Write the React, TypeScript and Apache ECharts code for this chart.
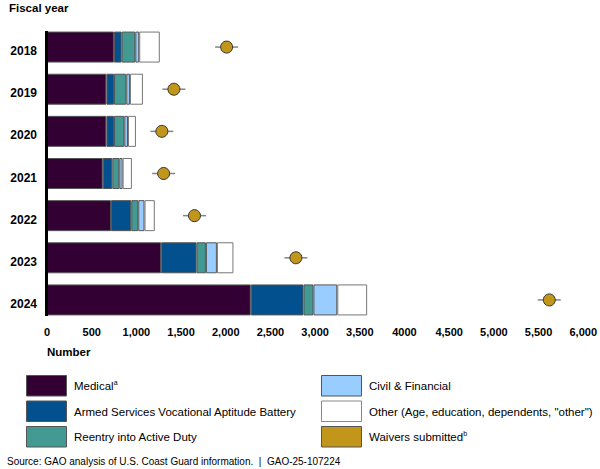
import React, { useEffect, useRef } from "react";
import * as echarts from "echarts";

const years = ["2018", "2019", "2020", "2021", "2022", "2023", "2024"];
const medical = [749, 665, 665, 624, 716, 1277, 2280];
const asvab = [86, 85, 85, 107, 227, 397, 590];
const reentry = [153, 137, 115, 78, 78, 104, 111];
const civil = [44, 41, 41, 37, 70, 123, 267];
const other = [230, 145, 89, 104, 115, 185, 334];
const waivers = [2010, 1420, 1285, 1305, 1650, 2785, 5620];
const xTickValues = [0, 500, 1000, 1500, 2000, 2500, 3000, 3500, 4000, 4500, 5000, 5500, 6000];
const xTickLabels = ["0", "500", "1,000", "1,500", "2,000", "2,500", "3,000", "3,500", "4000", "4,500", "5,000", "5,500", "6,000"];

const FONT = "'Liberation Sans', Arial, sans-serif";
const COLORS = {
  medical: "#330033",
  asvab: "#03508f",
  reentry: "#439a93",
  civil: "#99ccff",
  other: "#ffffff",
  waiver: "#c1961a",
};

const legendItems = [
  { name: "Medical", sup: "a", color: COLORS.medical, col: 0, row: 0 },
  { name: "Armed Services Vocational Aptitude Battery", sup: "", color: COLORS.asvab, col: 0, row: 1 },
  { name: "Reentry into Active Duty", sup: "", color: COLORS.reentry, col: 0, row: 2 },
  { name: "Civil & Financial", sup: "", color: COLORS.civil, col: 1, row: 0 },
  { name: 'Other (Age, education, dependents, "other")', sup: "", color: COLORS.other, col: 1, row: 1 },
  { name: "Waivers submitted", sup: "b", color: COLORS.waiver, col: 1, row: 2 },
];

const BAR_W = 31;

export default function App() {
  const ref = useRef<HTMLDivElement>(null);
  useEffect(() => {
    document.body.style.margin = "0";
    if (!ref.current) return;
    const chart = echarts.init(ref.current, undefined, { renderer: "svg" });

    const mkBar = (name: string, data: number[], color: string, border = "#555") => ({
      name,
      type: "bar",
      stack: "total",
      data,
      barWidth: BAR_W,
      itemStyle: { color, borderColor: border, borderWidth: 1 },
      emphasis: { disabled: true },
    });

    const legendGraphics: any[] = [];
    legendItems.forEach((it) => {
      const x = it.col === 0 ? 26 : 321;
      const y = 375 + it.row * 25.5;
      legendGraphics.push({
        type: "rect",
        shape: { x: x + 0.5, y: y + 0.5, width: 40, height: 20.5 },
        style: { fill: it.color, stroke: it.color === "#ffffff" ? "#888" : "#555", lineWidth: 1 },
      });
      legendGraphics.push({
        type: "text",
        x: x + 48,
        y: y + 11,
        style: {
          text: it.sup ? `{m|${it.name}}{s|${it.sup}}` : `{m|${it.name}}`,
          verticalAlign: "middle",
          rich: {
            m: { fontSize: 11.5, fontFamily: FONT, fill: "#000", lineHeight: 14 },
            s: { fontSize: 7, fontFamily: FONT, fill: "#000", lineHeight: 14, verticalAlign: "top", padding: [0, 0, 6, 0] },
          },
        },
      });
    });

    const baseGraphics: any[] = [
      {
        type: "text",
        x: 9,
        y: 8,
        style: {
          text: "Fiscal year",
          fontSize: 11.5,
          fontWeight: "bold",
          fontFamily: FONT,
          fill: "#000",
          verticalAlign: "middle",
        },
      },
      {
        type: "text",
        x: 47,
        y: 352,
        style: {
          text: "Number",
          fontSize: 11.5,
          fontWeight: "bold",
          fontFamily: FONT,
          fill: "#000",
          verticalAlign: "middle",
        },
      },
      ...legendGraphics,
      {
        type: "text",
        x: 7,
        y: 461,
        style: {
          text: "Source: GAO analysis of U.S. Coast Guard information.  |  GAO-25-107224",
          fontSize: 10,
          fontFamily: FONT,
          fill: "#000",
          verticalAlign: "middle",
        },
      },
    ];

    chart.setOption({
      animation: false,
      grid: { left: 47, width: 538, top: 26, height: 295 },
      xAxis: {
        type: "value",
        min: 0,
        max: 6000,
        interval: 500,
        axisLine: { show: false },
        axisTick: { show: false },
        splitLine: { show: false },
        axisLabel: {
          margin: 5,
          fontSize: 11,
          fontWeight: "bold",
          fontFamily: FONT,
          color: "#000",
          formatter: (v: number) => {
            const i = xTickValues.indexOf(v);
            return i >= 0 ? xTickLabels[i] : "";
          },
        },
      },
      yAxis: {
        type: "category",
        data: years,
        inverse: true,
        axisLine: { show: false },
        axisTick: { show: false },
        axisLabel: {
          margin: 10,
          formatter: "{y|{value}}",
          rich: {
            y: {
              fontSize: 12,
              fontWeight: "bold",
              fontFamily: FONT,
              color: "#000",
              lineHeight: 14,
              padding: [8, 0, 0, 0],
            },
          },
        },
      },
      series: [
        mkBar("Medical", medical, COLORS.medical),
        mkBar("Armed Services Vocational Aptitude Battery", asvab, COLORS.asvab),
        mkBar("Reentry into Active Duty", reentry, COLORS.reentry),
        mkBar("Civil & Financial", civil, COLORS.civil),
        mkBar('Other (Age, education, dependents, "other")', other, COLORS.other, "#777"),
        {
          name: "waiverLine",
          type: "scatter",
          data: waivers.map((v, i) => [v, years[i]]),
          symbol: "rect",
          symbolSize: [23, 1.5],
          itemStyle: { color: "#666" },
          z: 3,
          silent: true,
        },
        {
          name: "Waivers submitted",
          type: "scatter",
          data: waivers.map((v, i) => [v, years[i]]),
          symbol: "circle",
          symbolSize: 12,
          itemStyle: { color: COLORS.waiver, borderColor: "#333", borderWidth: 1, opacity: 1 },
          z: 4,
          silent: true,
        },
      ],
      graphic: baseGraphics,
    });

    // vertical axis line spanning only the bars, positioned via the chart's own scales
    const top = chart.convertToPixel({ gridIndex: 0 }, [0, years[0]]) as number[];
    const bottom = chart.convertToPixel({ gridIndex: 0 }, [0, years[years.length - 1]]) as number[];
    chart.setOption({
      graphic: [
        ...baseGraphics,
        {
          type: "line",
          shape: { x1: top[0] - 0.5, y1: top[1] - BAR_W / 2 - 0.5, x2: top[0] - 0.5, y2: bottom[1] + BAR_W / 2 + 0.5 },
          style: { stroke: "#000", lineWidth: 3 },
          z: 10,
        },
      ],
    });

    return () => chart.dispose();
  }, []);

  return <div ref={ref} style={{ width: 600, height: 469 }} />;
}
